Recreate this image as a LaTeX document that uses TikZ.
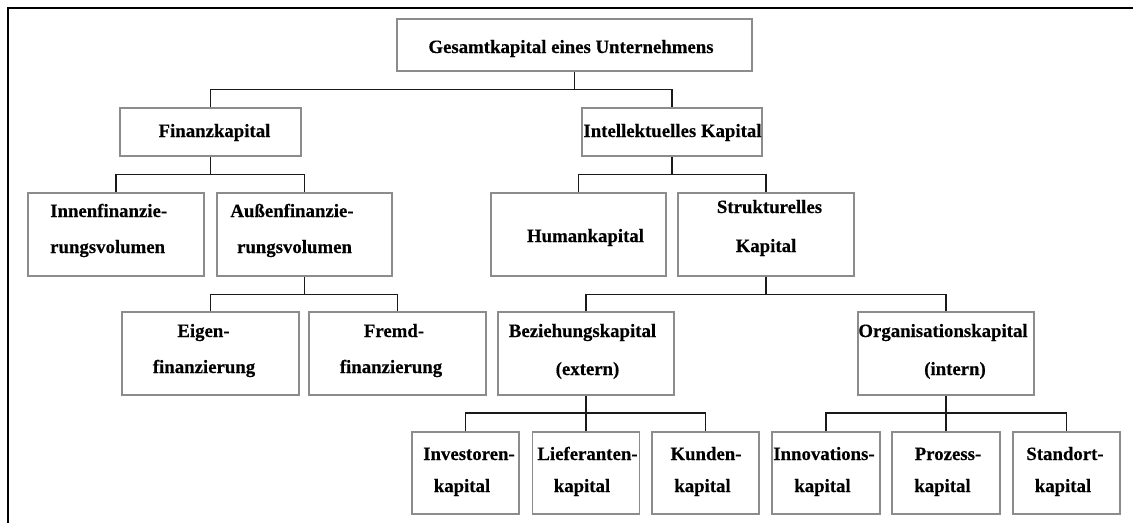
\documentclass[tikz,border=0pt]{standalone}
\usepackage{fontspec}
\setmainfont{Liberation Serif}[BoldFeatures={FakeBold=0.35}]
\definecolor{boxgray}{HTML}{8C8C8C}
\definecolor{linec}{HTML}{1A1A1A}
\begin{document}
\begin{tikzpicture}[x=1pt,y=-1pt,
  box/.style={draw=boxgray, line width=1.1pt, rectangle, inner sep=0pt, fill=white},
  lbl/.style={anchor=base, inner sep=0pt, font=\fontsize{18.8}{22}\selectfont\bfseries},
  lblw/.style={lbl, anchor=base west},
  conn/.style={draw=linec, line width=1.4pt},
  frameline/.style={draw=black, line width=2pt, line join=miter}]
\useasboundingbox (0,0) rectangle (1133,523);

% outer frame (top and left edges only)
\draw[frameline] (7.8,523) -- (7.8,7.7) -- (1133,7.7);

% boxes: name, centre x, centre y, width, height
\newcommand\kbox[5]{\node[box, minimum width=#4pt, minimum height=#5pt] (#1) at (#2,#3) {};}
\kbox{gk}{574.5}{45}{355}{52}
\kbox{fin}{210.5}{132}{181}{48}
\kbox{intel}{672}{132}{180}{48}
\kbox{innen}{116}{234.5}{176}{83}
\kbox{aussen}{304.5}{234.5}{175}{83}
\kbox{human}{578.5}{234.5}{175}{83}
\kbox{strukt}{766}{234.5}{176}{83}
\kbox{eigen}{210.5}{353.5}{177}{83}
\kbox{fremd}{397.5}{353.5}{177}{83}
\kbox{bez}{586}{353.5}{176}{83}
\kbox{org}{946}{353.5}{176}{83}
\kbox{inv}{465.5}{473}{107}{82}
\kbox{lief}{586}{473}{107}{82}
\kbox{kund}{705.5}{473}{107}{82}
\kbox{innov}{826}{473}{108}{82}
\kbox{proz}{946}{473}{108}{82}
\kbox{stand}{1066.5}{473}{107}{82}

% connectors
\draw[conn] (gk.south) -- ++(0,18) coordinate (b-gk);
\draw[conn] (fin.north) |- (b-gk) -| (intel.north);

\draw[conn] (fin.south) -- ++(0,18) coordinate (b-fin);
\draw[conn] (innen.north) |- (b-fin) -| (aussen.north);

\draw[conn] (aussen.south) -- ++(0,18) coordinate (b-aus);
\draw[conn] (eigen.north) |- (b-aus) -| (fremd.north);

\draw[conn] (intel.south) -- ++(0,18) coordinate (b-int);
\draw[conn] (human.north) |- (b-int) -| (strukt.north);

\draw[conn] (strukt.south) -- ++(0,18) coordinate (b-str);
\draw[conn] (bez.north) |- (b-str) -| (org.north);

\draw[conn] (bez.south) -- (lief.north);
\draw[conn] (inv.north) |- (lief.north |- 0,413) -| (kund.north);

\draw[conn] (org.south) -- (proz.north);
\draw[conn] (innov.north) |- (proz.north |- 0,413) -| (stand.north);

% labels (centre x, baseline y)
\node[lbl] (t-gk) at (571,53) {Gesamtkapital eines Unternehmens};
\node[lbl] (t-fin) at (214.5,137) {Finanzkapital};
\node[lbl] (t-int) at (672.5,137) {Intellektuelles Kapital};

\node[lblw] (t-innen1) at (50,217) {Innenfinanzie-};
\node[lblw] (t-innen2) at (50,253) {rungsvolumen};
\node[lbl] (t-aus1) at (292,217) {Außenfinanzie-};
\node[lbl] (t-aus2) at (294.5,253) {rungsvolumen};
\node[lbl] (t-hum) at (585.5,242) {Humankapital};
\node[lbl] (t-str1) at (769.5,213) {Strukturelles};
\node[lbl] (t-str2) at (766,252) {Kapital};

\node[lbl] (t-eig1) at (203.5,337) {Eigen-};
\node[lbl] (t-eig2) at (204,373) {finanzierung};
\node[lbl] (t-fre1) at (394,337) {Fremd-};
\node[lbl] (t-fre2) at (391,373) {finanzierung};
\node[lbl] (t-bez1) at (582.5,337) {Beziehungskapital};
\node[lbl] (t-bez2) at (587.5,375) {(extern)};
\node[lbl] (t-org1) at (943,337) {Organisationskapital};
\node[lbl] (t-org2) at (955,375) {(intern)};

\node[lbl] (t-inv1) at (469,460) {Investoren-};
\node[lbl] (t-inv2) at (462,492) {kapital};
\node[lbl] (t-lie1) at (587.5,460) {Lieferanten-};
\node[lbl] (t-lie2) at (582,492) {kapital};
\node[lbl] (t-kun1) at (706,460) {Kunden-};
\node[lbl] (t-kun2) at (702.5,492) {kapital};
\node[lbl] (t-inn1) at (824,460) {Innovations-};
\node[lbl] (t-inn2) at (822.5,492) {kapital};
\node[lbl] (t-pro1) at (948,460) {Prozess-};
\node[lbl] (t-pro2) at (942.5,492) {kapital};
\node[lbl] (t-sta1) at (1065,460) {Standort-};
\node[lbl] (t-sta2) at (1063,492) {kapital};
\end{tikzpicture}
\end{document}
